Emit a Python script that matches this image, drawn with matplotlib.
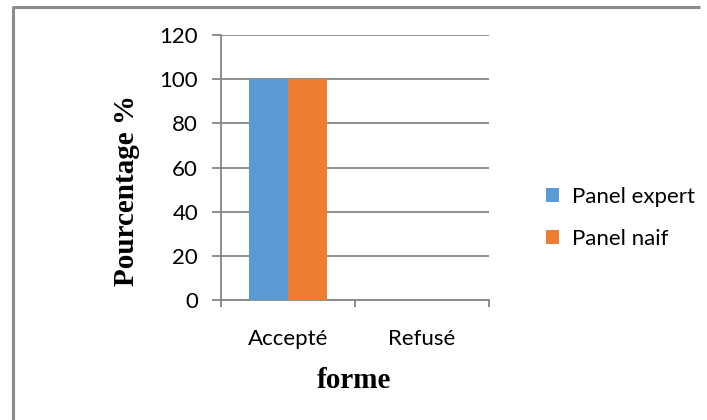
import matplotlib.pyplot as plt
from matplotlib.lines import Line2D
import numpy as np

categories = ['Accepté', 'Refusé']
expert = [100, 0]
naif = [100, 0]
series_names = ['Panel expert', 'Panel naif']
yticks = [0, 20, 40, 60, 80, 100, 120]

BLUE = '#5B9BD5'
ORANGE = '#ED7D31'
GRAY = '#868686'

W, H = 707, 420
fig = plt.figure(figsize=(W / 100, H / 100), dpi=100)

# outer chart frame: only its top and left edges fall inside the image
fx, fy = 13 / W, 1 - 7 / H
frame = dict(transform=fig.transFigure, color='#8c8c8c', lw=2.2, solid_capstyle='butt')
fig.add_artist(Line2D([fx, fx], [0.0, fy + 1.1 / H], **frame))
fig.add_artist(Line2D([fx, 0.99], [fy, fy], **frame))

ax = fig.add_axes([221 / W, (H - 300) / H, (489 - 221) / W, (300 - 35) / H])

x = np.arange(len(categories))
bw = 0.29
ax.bar(x - bw / 2, expert, bw, color=BLUE, label=series_names[0], zorder=3)
ax.bar(x + bw / 2, naif, bw, color=ORANGE, label=series_names[1], zorder=3)

ax.set_xlim(-0.5, len(categories) - 0.5)
ax.set_ylim(0, 120)
ax.set_yticks(yticks)
ax.yaxis.grid(True, color=GRAY, lw=1.3, zorder=0)
ax.set_axisbelow(True)

for s in ['top', 'right']:
    ax.spines[s].set_visible(False)
for s in ['left', 'bottom']:
    ax.spines[s].set_color(GRAY)
    ax.spines[s].set_linewidth(1.3)

tick_font = dict(family='Lato', size=16)
ax.tick_params(axis='y', direction='out', length=6.5, width=1.3, color=GRAY, pad=10)
ax.set_yticklabels([str(v) for v in yticks], **tick_font)

# category boundaries carry the tick marks, centres carry the labels
ax.set_xticks(np.arange(len(categories) + 1) - 0.5)
ax.set_xticklabels([])
ax.tick_params(axis='x', which='major', direction='out', length=5, width=1.3, color=GRAY)
ax.set_xticks(x, minor=True)
ax.set_xticklabels(categories, minor=True, **tick_font)
ax.tick_params(axis='x', which='minor', length=0, pad=21)

fig.text(126 / W, 1 - 190 / H, 'Pourcentage %', rotation=90, ha='center', va='center',
         family='Liberation Serif', weight='bold', size=21)
fig.text(354 / W, 1 - 380 / H, 'forme', ha='center', va='center',
         family='Liberation Serif', weight='bold', size=21)

ax.legend(loc='center left', bbox_to_anchor=(526 / W, 1 - 218 / H),
          bbox_transform=fig.transFigure, frameon=False,
          prop=dict(family='Lato', size=16), handlelength=0.6, handleheight=0.6,
          handletextpad=0.55, labelspacing=1.0)

fig.savefig('out.png', dpi=100)
